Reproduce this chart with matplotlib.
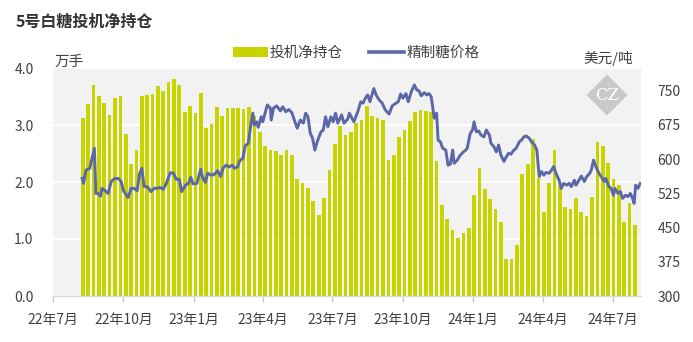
import matplotlib
matplotlib.use('Agg')
import matplotlib.pyplot as plt
import pandas as pd
from matplotlib.patches import Polygon, Patch
from matplotlib.lines import Line2D

plt.rcParams['font.family'] = ['Noto Sans CJK SC', 'DejaVu Sans']

# ---------------- data ----------------
bar_start = '2022-08-09'   # weekly (Tuesday) positions
net_positions = [
    3.12, 3.37, 3.70, 3.51, 3.38, 3.18, 3.47, 3.51, 2.84, 2.31, 2.56, 3.51, 3.53, 3.54, 3.68,
    3.60, 3.75, 3.80, 3.71, 3.23, 3.33, 3.21, 3.56, 2.94, 3.02, 3.32, 3.16, 3.29, 3.29, 3.29, 3.28, 3.31,
    3.15, 2.88, 2.63, 2.56, 2.54, 2.47, 2.56, 2.47, 2.05, 1.99, 1.89, 1.67, 1.42, 1.72, 2.21, 2.67, 2.98, 2.82, 2.88,
    3.03, 3.09, 3.33, 3.16, 3.12, 3.09, 2.39, 2.47, 2.79, 2.91, 3.07, 3.23, 3.26, 3.25, 3.23, 2.37, 1.60,
    1.35, 1.16, 1.02, 1.11, 1.19, 1.77, 2.24, 1.88, 1.70, 1.53, 1.30, 0.65, 0.65, 0.89, 2.14, 2.32, 2.75, 2.07,
    1.48, 1.98, 2.56, 1.95, 1.57, 1.53, 1.72, 1.47, 1.41, 1.74, 2.71, 2.63, 2.33, 2.06, 1.95, 1.30, 1.63, 1.25,
]

price_dates = [
    '2022-08-08', '2022-08-10', '2022-08-13', '2022-08-18', '2022-08-22', '2022-08-24', '2022-08-26',
    '2022-08-29', '2022-09-01', '2022-09-03', '2022-09-07', '2022-09-11', '2022-09-15', '2022-09-19',
    '2022-09-24', '2022-09-28', '2022-10-01', '2022-10-07', '2022-10-11', '2022-10-15', '2022-10-19',
    '2022-10-22', '2022-10-25', '2022-10-28', '2022-11-01', '2022-11-06', '2022-11-10', '2022-11-13',
    '2022-11-18', '2022-11-22', '2022-11-26', '2022-12-01', '2022-12-05', '2022-12-09', '2022-12-13',
    '2022-12-16', '2022-12-21', '2022-12-25', '2022-12-28', '2022-12-31', '2023-01-05', '2023-01-07',
    '2023-01-10', '2023-01-12', '2023-01-16', '2023-01-19', '2023-01-24', '2023-01-28', '2023-02-01',
    '2023-02-05', '2023-02-08', '2023-02-12', '2023-02-16', '2023-02-20', '2023-02-23', '2023-02-27',
    '2023-03-02', '2023-03-06', '2023-03-09', '2023-03-13', '2023-03-16', '2023-03-19', '2023-03-21',
    '2023-03-24', '2023-03-26', '2023-03-30', '2023-04-01', '2023-04-04', '2023-04-07', '2023-04-11',
    '2023-04-12', '2023-04-15', '2023-04-19', '2023-04-24', '2023-04-27', '2023-05-01', '2023-05-05',
    '2023-05-09', '2023-05-13', '2023-05-16', '2023-05-20', '2023-05-24', '2023-05-27', '2023-05-30',
    '2023-06-02', '2023-06-05', '2023-06-08', '2023-06-11', '2023-06-16', '2023-06-19', '2023-06-22',
    '2023-06-25', '2023-06-29', '2023-07-02', '2023-07-05', '2023-07-08', '2023-07-13', '2023-07-16',
    '2023-07-21', '2023-07-23', '2023-07-29', '2023-08-03', '2023-08-07', '2023-08-10', '2023-08-13',
    '2023-08-16', '2023-08-19', '2023-08-24', '2023-08-27', '2023-08-31', '2023-09-04', '2023-09-08',
    '2023-09-13', '2023-09-17', '2023-09-22', '2023-09-25', '2023-09-28', '2023-10-01', '2023-10-05',
    '2023-10-08', '2023-10-12', '2023-10-16', '2023-10-19', '2023-10-22', '2023-10-25', '2023-10-29',
    '2023-11-01', '2023-11-04', '2023-11-07', '2023-11-11', '2023-11-14', '2023-11-16', '2023-11-19',
    '2023-11-22', '2023-11-26', '2023-11-29', '2023-12-02', '2023-12-05', '2023-12-07', '2023-12-11',
    '2023-12-15', '2023-12-19', '2023-12-22', '2023-12-24', '2023-12-28', '2023-12-31', '2024-01-02',
    '2024-01-05', '2024-01-08', '2024-01-11', '2024-01-15', '2024-01-18', '2024-01-22', '2024-01-24',
    '2024-01-28', '2024-01-31', '2024-02-03', '2024-02-06', '2024-02-10', '2024-02-12', '2024-02-16',
    '2024-02-19', '2024-02-23', '2024-02-26', '2024-03-01', '2024-03-04', '2024-03-07', '2024-03-10',
    '2024-03-14', '2024-03-17', '2024-03-21', '2024-03-24', '2024-03-27', '2024-03-30', '2024-04-02',
    '2024-04-05', '2024-04-09', '2024-04-12', '2024-04-15', '2024-04-18', '2024-04-22', '2024-04-25',
    '2024-04-28', '2024-05-02', '2024-05-05', '2024-05-08', '2024-05-12', '2024-05-14', '2024-05-18',
    '2024-05-21', '2024-05-25', '2024-05-28', '2024-06-01', '2024-06-03', '2024-06-06', '2024-06-09',
    '2024-06-13', '2024-06-16', '2024-06-20', '2024-06-22', '2024-06-26', '2024-06-29', '2024-07-02',
    '2024-07-04', '2024-07-08', '2024-07-11', '2024-07-14', '2024-07-18', '2024-07-21', '2024-07-24',
    '2024-07-27', '2024-07-29', '2024-07-31', '2024-08-03', '2024-08-06',
]
price_values = [
    558, 547, 576, 580, 609, 624, 525,
    525, 519, 536, 531, 525, 551, 557,
    558, 551, 531, 516, 536, 536, 531,
    568, 580, 540, 540, 529, 536, 536,
    538, 534, 547, 570, 570, 556, 556,
    529, 543, 547, 560, 546, 547, 560,
    578, 562, 549, 569, 565, 567, 575,
    562, 580, 587, 583, 587, 580, 583,
    597, 602, 629, 635, 670, 701, 675,
    682, 670, 693, 682, 701, 719, 712,
    686, 712, 717, 706, 715, 704, 709,
    702, 682, 668, 686, 679, 701, 693,
    657, 646, 620, 638, 660, 664, 693,
    671, 693, 682, 701, 679, 697, 679,
    688, 701, 682, 704, 726, 723, 734,
    741, 726, 755, 741, 730, 723, 708,
    699, 717, 723, 726, 743, 734, 744,
    726, 748, 763, 752, 750, 739, 746,
    741, 744, 737, 690, 701, 642, 638,
    624, 620, 587, 589, 620, 591, 598,
    609, 616, 620, 624, 657, 664, 682,
    660, 662, 653, 649, 664, 653, 635,
    627, 616, 631, 609, 595, 602, 613,
    611, 620, 624, 638, 642, 649, 651,
    646, 638, 631, 620, 562, 573, 565,
    571, 569, 576, 584, 569, 554, 536,
    547, 543, 547, 540, 554, 543, 554,
    563, 551, 562, 569, 576, 598, 584,
    569, 562, 551, 558, 540, 536, 521,
    536, 525, 529, 514, 521, 518, 525,
    514, 503, 543, 536, 547,
]

x_tick_dates = ['2022-07-01', '2022-10-01', '2023-01-01', '2023-04-01', '2023-07-01',
                '2023-10-01', '2024-01-01', '2024-04-01', '2024-07-01']
x_tick_labels = ['22年7月', '22年10月', '23年1月', '23年4月', '23年7月',
                 '23年10月', '24年1月', '24年4月', '24年7月']
left_ticks = [0.0, 1.0, 2.0, 3.0, 4.0]
right_ticks = [300, 375, 450, 525, 600, 675, 750]

title = '5号白糖投机净持仓'
bar_label = '投机净持仓'
line_label = '精制糖价格'
left_unit = '万手'
right_unit = '美元/吨'

# ---------------- styles ----------------
BAR_COLOR = '#C8D400'
LINE_COLOR = '#5B67A8'
TEXT_COLOR = '#404040'
W, H = 693, 342

fig = plt.figure(figsize=(W / 100, H / 100), dpi=100)
fig.patch.set_facecolor('white')

ax = fig.add_axes([53 / W, (H - 296) / H, (641 - 53) / W, (296 - 68) / H])
ax.set_facecolor('#F2F2F2')

bar_dates = pd.date_range(bar_start, periods=len(net_positions), freq='7D')
ax.bar(bar_dates, net_positions, width=4.8, color=BAR_COLOR, zorder=2, linewidth=0)

ax.set_ylim(0, 4)
ax.set_yticks(left_ticks)
ax.set_yticklabels([f'{v:.1f}' for v in left_ticks])
ax.yaxis.grid(True, color='white', linewidth=1.3)
ax.set_axisbelow(True)
ax.set_xlim(pd.Timestamp('2022-07-01'), pd.Timestamp('2024-08-07'))
ax.set_xticks(pd.to_datetime(x_tick_dates))
ax.set_xticklabels(x_tick_labels)

for s in ['top', 'left', 'right']:
    ax.spines[s].set_visible(False)
ax.spines['bottom'].set_color('#D9D9D9')
ax.spines['bottom'].set_linewidth(1.0)
ax.tick_params(axis='y', length=0, pad=14, labelsize=10, labelcolor=TEXT_COLOR)
ax.tick_params(axis='x', length=4, width=1, color='#C8C8C8', pad=8,
               labelsize=10, labelcolor=TEXT_COLOR)

ax2 = ax.twinx()
ax2.plot(pd.to_datetime(price_dates), price_values, color=LINE_COLOR, linewidth=2.1,
         solid_joinstyle='round', zorder=3)
ax2.set_ylim(300, 800)
ax2.set_yticks(right_ticks)
ax2.set_yticklabels([str(v) for v in right_ticks])
for s in ['top', 'left', 'right', 'bottom']:
    ax2.spines[s].set_visible(False)
ax2.tick_params(axis='y', length=0, pad=12, labelsize=10, labelcolor=TEXT_COLOR)

# texts
fig.text(16 / W, 1 - 22 / H, title, fontsize=11.5, fontweight='bold',
         color='#333333', va='center', ha='left')
fig.text(55 / W, 1 - 62 / H, left_unit, fontsize=10.5, color=TEXT_COLOR, va='center', ha='left')
fig.text(583 / W, 1 - 58 / H, right_unit, fontsize=10.5, color=TEXT_COLOR, va='center', ha='left')

handles = [Patch(facecolor=BAR_COLOR, edgecolor='none'),
           Line2D([], [], color=LINE_COLOR, linewidth=2.6)]
fig.legend(handles, [bar_label, line_label], loc='center', bbox_to_anchor=(356 / W, 1 - 53 / H),
           ncol=2, frameon=False, fontsize=10.5, handlelength=2.4, handletextpad=0.15,
           columnspacing=1.8, labelcolor=TEXT_COLOR)

# watermark diamond
cx, cy, r = 607, 95, 20.5
diamond = Polygon([[(cx) / W, 1 - (cy - r) / H], [(cx + r) / W, 1 - cy / H],
                   [(cx) / W, 1 - (cy + r) / H], [(cx - r) / W, 1 - cy / H]],
                  closed=True, transform=fig.transFigure, facecolor='#C9C9C9',
                  edgecolor='none', zorder=5)
fig.patches.append(diamond)
fig.text(cx / W, 1 - cy / H, 'CZ', fontsize=12, color='white', family='DejaVu Serif',
         ha='center', va='center', zorder=6)

fig.savefig('out.png', dpi=100)
